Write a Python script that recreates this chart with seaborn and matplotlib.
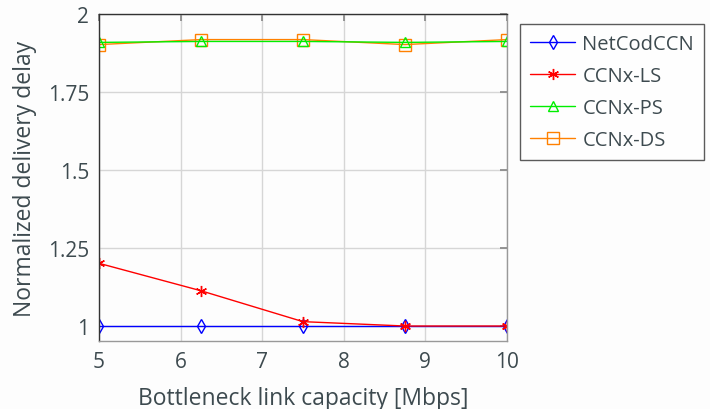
import matplotlib
matplotlib.use("Agg")
import matplotlib.pyplot as plt
import seaborn as sns
import pandas as pd

capacity = [5, 6.25, 7.5, 8.75, 10]
netcodccn = [1.0, 1.0, 1.0, 1.0, 1.0]
ccnx_ls = [1.201, 1.113, 1.014, 1.0, 1.0]
ccnx_ps = [1.909, 1.912, 1.912, 1.909, 1.912]
ccnx_ds = [1.902, 1.918, 1.918, 1.902, 1.918]
series_names = ["NetCodCCN", "CCNx-LS", "CCNx-PS", "CCNx-DS"]
xticks = [5, 6, 7, 8, 9, 10]
yticks = [1, 1.25, 1.5, 1.75, 2]
ytick_labels = ["1", "1.25", "1.5", "1.75", "2"]

sns.set_theme(style="white")
plt.rcParams["font.family"] = ["Open Sans", "DejaVu Sans"]
txt = "#3d4a4f"

rows = []
for name, vals in zip(series_names, [netcodccn, ccnx_ls, ccnx_ps, ccnx_ds]):
    for x, y in zip(capacity, vals):
        rows.append({"capacity": x, "delay": y, "series": name})
df = pd.DataFrame(rows)

fig = plt.figure(figsize=(7.1, 4.1), dpi=100)
fig.patch.set_facecolor("#fdfdfd")
ax = fig.add_axes([99/710, 1 - 342/410, (507-99)/710, (342-15)/410])
ax.set_facecolor("#fdfdfd")

colors = {"NetCodCCN": "#0000ff", "CCNx-LS": "#ff0000", "CCNx-PS": "#00ee00", "CCNx-DS": "#ff8000"}
markers = {"NetCodCCN": "d", "CCNx-LS": (6, 2, 0), "CCNx-PS": "^", "CCNx-DS": "s"}
sizes = {"NetCodCCN": 7.5, "CCNx-LS": 8, "CCNx-PS": 6.5, "CCNx-DS": 8}
order = ["CCNx-DS", "CCNx-PS", "NetCodCCN", "CCNx-LS"]
for name in order:
    sub = df[df["series"] == name]
    sns.lineplot(data=sub, x="capacity", y="delay", ax=ax, color=colors[name],
                 marker=markers[name], markersize=sizes[name], markerfacecolor="none",
                 markeredgecolor=colors[name], markeredgewidth=1.0,
                 linewidth=1.0, label=name, legend=False)

ax.set_xlim(5, 10)
ax.set_ylim(0.952, 2)
ax.set_xticks(xticks)
ax.set_xticklabels([str(t) for t in xticks])
ax.set_yticks(yticks)
ax.set_yticklabels(ytick_labels)
ax.grid(True, color="#d6d6d6", linewidth=1.0)
ax.tick_params(axis="both", direction="in", length=5, colors="#888888",
               labelcolor=txt, labelsize=15, top=True, right=True, pad=7)
for s in ax.spines.values():
    s.set_color("#999999")
    s.set_linewidth(1.0)
ax.spines["left"].set_color("#333333")
ax.spines["top"].set_color("#333333")
ax.set_xlabel("Bottleneck link capacity [Mbps]", fontsize=16.5, color=txt, labelpad=10)
ax.set_ylabel("Normalized delivery delay", fontsize=16.5, color=txt, labelpad=8)

handles, labels = ax.get_legend_handles_labels()
hmap = dict(zip(labels, handles))
leg = fig.legend([hmap[n] for n in series_names], series_names,
                 loc="upper left", bbox_to_anchor=(520/710, 1 - 25/410), borderaxespad=0,
                 fontsize=14.5, frameon=True, fancybox=False, edgecolor="#333333",
                 handlelength=2.25, borderpad=0.5, labelspacing=0.6, handletextpad=0.35)
leg.get_frame().set_linewidth(1.0)
leg.get_frame().set_facecolor("white")
for t in leg.get_texts():
    t.set_color(txt)

fig.savefig("out.png", dpi=100, facecolor=fig.get_facecolor())
